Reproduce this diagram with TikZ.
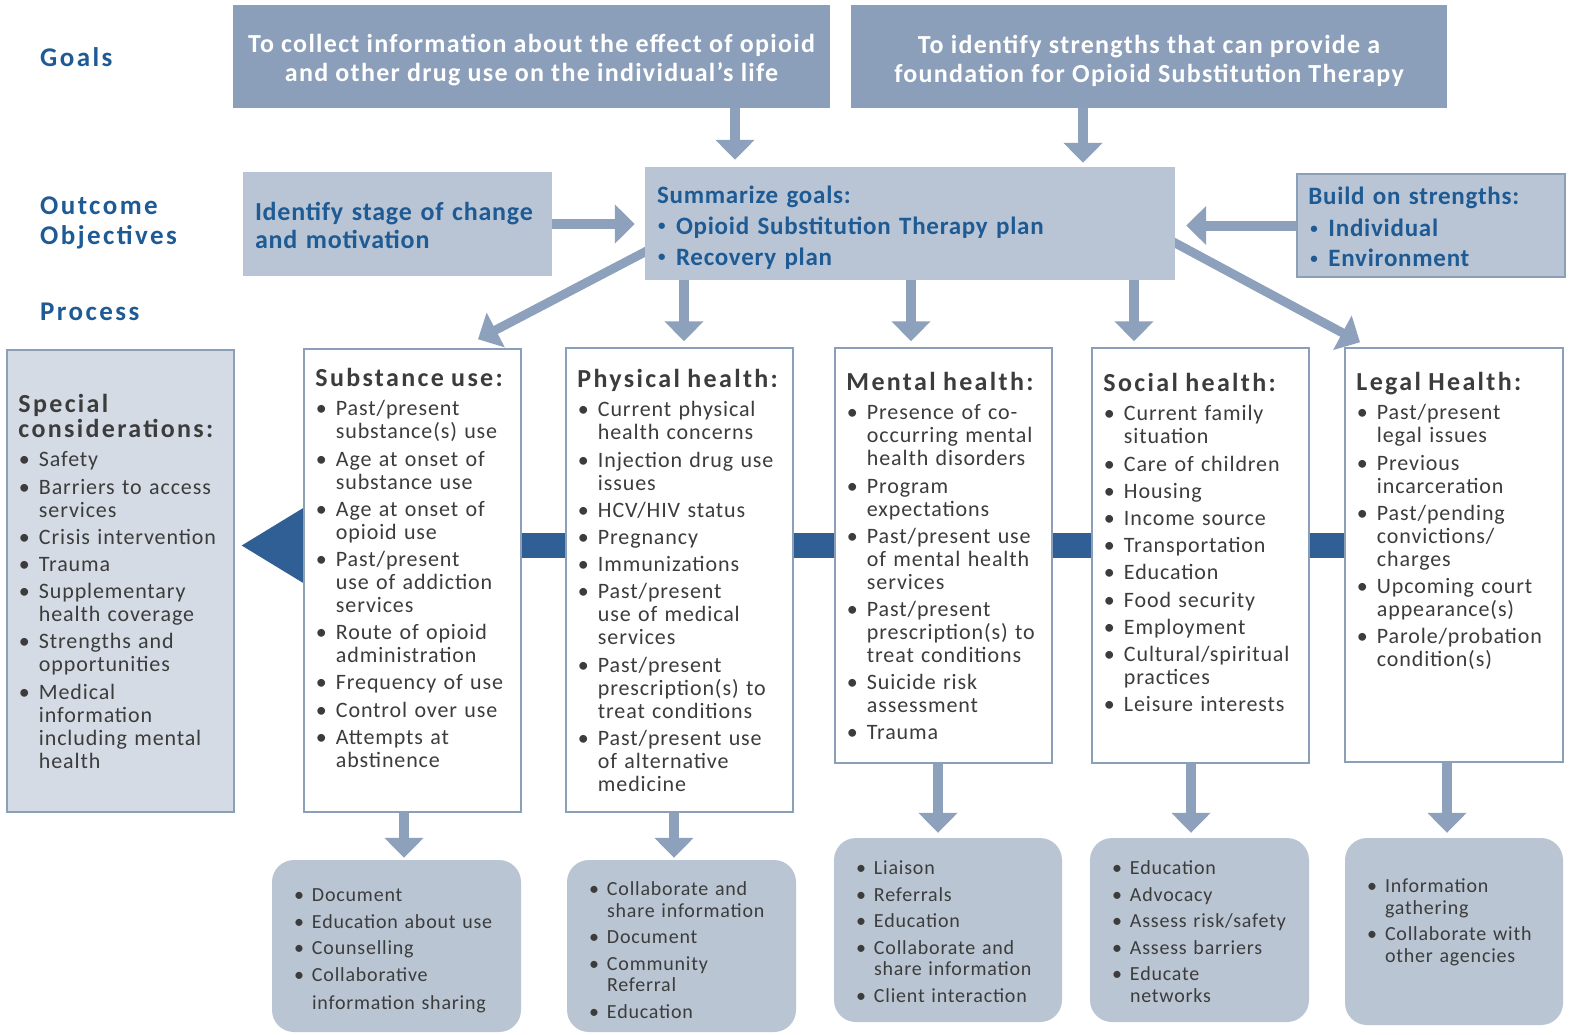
\documentclass[tikz,border=0pt]{standalone}
\usepackage{fontspec}
\setmainfont{Carlito}
\newfontfamily\bodyf[LetterSpace=4]{Carlito}
\newfontfamily\headf[LetterSpace=9]{Carlito}
\newfontfamily\bluef[LetterSpace=3]{Carlito}
\newfontfamily\goalf[LetterSpace=5]{Carlito}
\usetikzlibrary{arrows.meta}
\pgfdeclarelayer{bg}
\pgfsetlayers{bg,main}
\definecolor{goalc}{HTML}{8B9FBA}
\definecolor{lightc}{HTML}{B9C5D4}
\definecolor{botc}{HTML}{BAC5D3}
\definecolor{specc}{HTML}{D4DBE4}
\definecolor{bordc}{HTML}{8C9FB9}
\definecolor{arrc}{HTML}{8DA1BC}
\definecolor{darkc}{HTML}{2F5F94}
\definecolor{bluec}{HTML}{1E5A94}
\definecolor{txtc}{HTML}{3C3C3C}
\newlength\bind \newlength\bpos \newlength\isep
\newcommand\bul{\textbullet}
\newcommand\itmx[1]{{\leftskip=\bind\noindent\llap{\makebox[\bind][l]{\hspace{\bpos}\bul}}\rule{0pt}{16pt}#1\par}}
\newcommand\itm[1]{\vspace{\isep}\itmx{#1}}
\newcommand\colset{\bodyf\fontsize{22}{23}\selectfont\lineskiplimit=-100pt\lineskip=0pt\setlength\bind{20.5pt}\setlength\bpos{0.5pt}\setlength\isep{4.2pt}}
\newcommand\ctitle[1]{{\headf\bfseries\fontsize{26}{25}\selectfont\rule{0pt}{20pt}#1\par}\vspace{6.5pt}}
\newcommand\botset{\bodyf\fontsize{20}{21.5}\selectfont\lineskiplimit=-100pt\lineskip=0pt\setlength\bind{18pt}\setlength\bpos{0pt}\setlength\isep{5pt}}
\newcommand\labset{\headf\bfseries\fontsize{27}{30}\selectfont\lineskiplimit=-100pt\lineskip=0pt}
\newcommand\smallbul{\raisebox{0.13em}{\scalebox{0.6}{\textbullet}}}
\newcommand\sumset{\bluef\bfseries\fontsize{25}{31}\selectfont\lineskiplimit=-100pt\lineskip=0pt\setlength\bind{19pt}\setlength\bpos{1pt}\setlength\isep{0pt}\let\bul\smallbul}
\newcommand\bldset{\bluef\bfseries\fontsize{25}{30}\selectfont\lineskiplimit=-100pt\lineskip=0pt\setlength\bind{20pt}\setlength\bpos{2pt}\setlength\isep{0pt}\let\bul\smallbul}
\newcommand\idfset{\bluef\bfseries\fontsize{26}{28}\selectfont\lineskiplimit=-100pt\lineskip=0pt}
\begin{document}
\begin{tikzpicture}[x=1pt,y=-1pt,
  goalbox/.style={rectangle,fill=goalc,inner sep=0pt},
  lightbox/.style={rectangle,fill=lightc,inner sep=0pt},
  bldbox/.style={rectangle,fill=lightc,draw=bordc,line width=1.5pt,inner sep=0pt},
  colbox/.style={rectangle,fill=white,draw=bordc,line width=1.5pt,inner sep=0pt},
  specbox/.style={rectangle,fill=specc,draw=bordc,line width=1.5pt,inner sep=0pt},
  botbox/.style={rectangle,fill=botc,rounded corners=22pt,inner sep=0pt},
  coltext/.style={anchor=north west,inner sep=0pt,text width=300pt,align=left,text=txtc,font=\colset},
  bottext/.style={anchor=north west,inner sep=0pt,text width=300pt,align=left,text=txtc,font=\botset},
  labtext/.style={anchor=north west,inner sep=0pt,text width=250pt,align=left,text=bluec,font=\labset},
  goaltext/.style={inner sep=0pt,align=center,text=white,font=\goalf\bfseries\fontsize{26}{29}\selectfont},
  arr/.style={draw=arrc,line width=10pt,shorten <=-12pt,-{Triangle[width=38pt,length=20pt]}},
  darkbar/.style={draw=darkc,line width=25pt,-{Triangle[width=72pt,length=64pt]}}
]
\useasboundingbox (0,0) rectangle (1570,1034);
\begin{pgfonlayer}{bg}
\fill[white] (0,0) rectangle (1570,1034);
\end{pgfonlayer}

% left labels
\node[labtext] (lgoals) at (40,46) {\rule{0pt}{20pt}Goals};
\node[labtext] (lout) at (40,194) {\rule{0pt}{20pt}Outcome\\Objectives};
\node[labtext] (lproc) at (40,300) {\rule{0pt}{20pt}Process};

% goal boxes
\node[goalbox,minimum width=597pt,minimum height=103pt] (g1) at (531.5,56.5) {};
\node[goalbox,minimum width=596pt,minimum height=103pt] (g2) at (1149,56.5) {};
\node[goaltext] (g1t) at ([yshift=-4pt]g1.center) {To collect information about the effect of opioid\\and other drug use on the individual’s life};
\node[goaltext] (g2t) at ([yshift=-4pt]g2.center) {To identify strengths that can provide a\\foundation for Opioid Substitution Therapy};

% outcome objectives
\node[lightbox,minimum width=530pt,minimum height=113pt] (sum) at (910,223.5) {};
\node[lightbox,minimum width=309pt,minimum height=104pt] (idf) at (397.5,224) {};
\node[bldbox,minimum width=268pt,minimum height=103pt] (bld) at (1431,225.5) {};
\node[anchor=north west,inner sep=0pt,text width=400pt,align=left,text=bluec,font=\sumset] (sumt) at ([xshift=12pt,yshift=-16pt]sum.north west)
  {\rule{0pt}{20pt}Summarize goals:\par\itmx{Opioid Substitution Therapy plan}\itmx{Recovery plan}};
\node[anchor=north west,inner sep=0pt,text width=300pt,align=left,text=bluec,font=\idfset] (idft) at ([xshift=12pt,yshift=-28pt]idf.north west)
  {\rule{0pt}{20pt}Identify stage of change\\and motivation};
\node[anchor=north west,inner sep=0pt,text width=300pt,align=left,text=bluec,font=\bldset] (bldt) at ([xshift=12pt,yshift=-11pt]bld.north west)
  {\rule{0pt}{20pt}Build on strengths:\par\vspace{2pt}\itmx{Individual}\itmx{Environment}};

% process columns
\node[specbox,minimum width=227pt,minimum height=462pt] (spec) at (120.5,581) {};
\node[colbox,minimum width=217pt,minimum height=463pt] (sub) at (412.5,580.5) {};
\node[colbox,minimum width=227pt,minimum height=464pt] (phy) at (679.5,580) {};
\node[colbox,minimum width=217pt,minimum height=415pt] (ment) at (943.5,555.5) {};
\node[colbox,minimum width=217pt,minimum height=415pt] (soc) at (1200.5,555.5) {};
\node[colbox,minimum width=218pt,minimum height=414pt] (leg) at (1454,555) {};

\node[coltext] (spect) at ([xshift=12pt,yshift=-43pt]spec.north west) {\ctitle{Special\\considerations:}%
  \itmx{Safety}\itm{Barriers to access\\services}\itm{Crisis intervention}\itm{Trauma}%
  \itm{Supplementary\\health coverage}\itm{Strengths and\\opportunities}%
  \itm{Medical\\information\\including mental\\health}};
\node[coltext] (subt) at ([xshift=12pt,yshift=-18pt]sub.north west) {\ctitle{Substance use:}%
  \itmx{Past/present\\substance(s) use}\itm{Age at onset of\\substance use}\itm{Age at onset of\\opioid use}%
  \itm{Past/present\\use of addiction\\services}\itm{Route of opioid\\administration}%
  \itm{Frequency of use}\itm{Control over use}\itm{Attempts at\\abstinence}};
\node[coltext] (phyt) at ([xshift=12pt,yshift=-20pt]phy.north west) {\ctitle{Physical health:}%
  \itmx{Current physical\\health concerns}\itm{Injection drug use\\issues}\itm{HCV/HIV status}%
  \itm{Pregnancy}\itm{Immunizations}\itm{Past/present\\use of medical\\services}%
  \itm{Past/present\\prescription(s) to\\treat conditions}\itm{Past/present use\\of alternative\\medicine}};
\node[coltext] (mentt) at ([xshift=12pt,yshift=-23pt]ment.north west) {\ctitle{Mental health:}%
  \itmx{Presence of co-\\occurring mental\\health disorders}\itm{Program\\expectations}%
  \itm{Past/present use\\of mental health\\services}\itm{Past/present\\prescription(s) to\\treat conditions}%
  \itm{Suicide risk\\assessment}\itm{Trauma}};
\node[coltext] (soct) at ([xshift=12pt,yshift=-24pt]soc.north west) {\ctitle{Social health:}%
  \itmx{Current family\\situation}\itm{Care of children}\itm{Housing}\itm{Income source}%
  \itm{Transportation}\itm{Education}\itm{Food security}\itm{Employment}%
  \itm{Cultural/spiritual\\practices}\itm{Leisure interests}};
\node[coltext] (legt) at ([xshift=12pt,yshift=-23pt]leg.north west) {\ctitle{Legal Health:}%
  \itmx{Past/present\\legal issues}\itm{Previous\\incarceration}\itm{Past/pending\\convictions/\\charges}%
  \itm{Upcoming court\\appearance(s)}\itm{Parole/probation\\condition(s)}};

% bottom boxes
\node[botbox,minimum width=249pt,minimum height=172pt] (b1) at (396.5,946) {};
\node[botbox,minimum width=229pt,minimum height=172pt] (b2) at (681.5,946) {};
\node[botbox,minimum width=228pt,minimum height=184pt] (b3) at (948,930) {};
\node[botbox,minimum width=219pt,minimum height=184pt] (b4) at (1199.5,930) {};
\node[botbox,minimum width=218pt,minimum height=187pt] (b5) at (1454,931.5) {};

\node[bottext] (b1t) at ([xshift=22pt,yshift=-25.5pt]b1.north west) {%
  \itmx{Document}\itm{Education about use}\itm{Counselling}\itm{Collaborative\\[6.5pt]information sharing}};
\node[bottext] (b2t) at ([xshift=22pt,yshift=-19.5pt]b2.north west) {%
  \itmx{Collaborate and\\share information}\itm{Document}\itm{Community\\Referral}\itm{Education}};
\node[bottext] (b3t) at ([xshift=22pt,yshift=-20.5pt]b3.north west) {%
  \itmx{Liaison}\itm{Referrals}\itm{Education}\itm{Collaborate and\\share information}\itm{Client interaction}};
\node[bottext] (b4t) at ([xshift=22pt,yshift=-20.5pt]b4.north west) {%
  \itmx{Education}\itm{Advocacy}\itm{Assess risk/safety}\itm{Assess barriers}\itm{Educate\\networks}};
\node[bottext] (b5t) at ([xshift=22pt,yshift=-38.5pt]b5.north west) {%
  \itmx{Information\\gathering}\itm{Collaborate with\\other agencies}};

% connectors
\coordinate (barR) at ([yshift=9.5pt]leg.west);
\coordinate (a1) at ([xshift=203.5pt]g1.south);
\coordinate (a2) at ([xshift=-66pt]g2.south);
\coordinate (v1) at ([xshift=-226pt]sum.south);
\coordinate (v2) at ([xshift=1pt]sum.south);
\coordinate (v3) at ([xshift=224pt]sum.south);
\coordinate (d1) at ([xshift=-8.5pt]sub.south);
\coordinate (d2) at ([xshift=-5.5pt]phy.south);
\coordinate (d3) at ([xshift=-5.5pt]ment.south);
\coordinate (d4) at ([xshift=-9.5pt]soc.south);
\coordinate (d5) at ([xshift=-7pt]leg.south);
\begin{pgfonlayer}{bg}
\draw[darkbar,shorten >=6pt] (barR) -- (barR -| spec.east);
\draw[arr,shorten >=7pt] (a1) -- (a1 |- sum.north);
\draw[arr,shorten >=4pt] (a2) -- (a2 |- sum.north);
\draw[arr,shorten >=10pt] (idf.east) -- (idf.east -| sum.west);
\draw[arr,shorten >=11pt] (bld.west) -- (bld.west -| sum.east);
\draw[arr,line width=9pt] ([yshift=-28.5pt]sum.west) -- ([xshift=65.5pt,yshift=9pt]sub.north);
\draw[arr,line width=9pt] ([yshift=-19.5pt]sum.east) -- ([xshift=-94pt,yshift=5pt]leg.north);
\draw[arr,shorten >=6pt] (v1) -- (v1 |- phy.north);
\draw[arr,shorten >=6pt] (v2) -- (v2 |- ment.north);
\draw[arr,shorten >=6pt] (v3) -- (v3 |- soc.north);
\draw[arr,shorten >=2pt] (d1) -- (d1 |- b1.north);
\draw[arr,shorten >=2pt] (d2) -- (d2 |- b2.north);
\draw[arr,shorten >=5pt] (d3) -- (d3 |- b3.north);
\draw[arr,shorten >=5pt] (d4) -- (d4 |- b4.north);
\draw[arr,shorten >=5pt] (d5) -- (d5 |- b5.north);
\end{pgfonlayer}
\end{tikzpicture}
\end{document}
